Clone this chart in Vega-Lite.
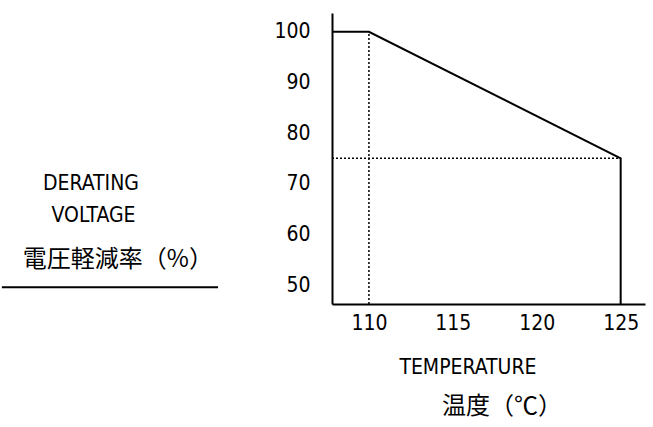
{
  "$schema": "https://vega.github.io/schema/vega-lite/v6.json",
  "autosize": "none",
  "width": 313,
  "height": 291,
  "padding": {"left": 332, "top": 13, "right": 8, "bottom": 123},
  "background": "white",
  "config": {"view": {"stroke": null}},
  "layer": [
    {
      "data": {"values": [
        {"x": 110, "x2": 110, "y": 46.25, "y2": 100},
        {"x": 107.8, "x2": 125, "y": 75, "y2": 75}
      ]},
      "mark": {"type": "rule", "color": "black", "strokeWidth": 1.5, "strokeDash": [2, 2]},
      "encoding": {
        "x": {"field": "x", "type": "quantitative", "scale": {"domain": [107.8, 126.45], "zero": false, "nice": false},
          "axis": {"values": [110, 115, 120, 125], "title": null, "grid": false, "ticks": false, "domainColor": "black", "domainWidth": 2, "labelFont": "DejaVu Sans Condensed, DejaVu Sans", "labelFontSize": 21, "labelColor": "black", "labelPadding": 8}},
        "x2": {"field": "x2"},
        "y": {"field": "y", "type": "quantitative", "scale": {"domain": [46.25, 103.7], "zero": false, "nice": false},
          "axis": {"values": [50, 60, 70, 80, 90, 100], "title": null, "grid": false, "ticks": false, "domainColor": "black", "domainWidth": 2, "labelFont": "DejaVu Sans Condensed, DejaVu Sans", "labelFontSize": 21, "labelColor": "black", "labelPadding": 22}},
        "y2": {"field": "y2"}
      }
    },
    {
      "data": {"values": [
        {"x": 107.8, "y": 100, "o": 1},
        {"x": 110, "y": 100, "o": 2},
        {"x": 125, "y": 75, "o": 3},
        {"x": 125, "y": 46.25, "o": 4}
      ]},
      "mark": {"type": "line", "color": "black", "strokeWidth": 2},
      "encoding": {
        "x": {"field": "x", "type": "quantitative"},
        "y": {"field": "y", "type": "quantitative"},
        "order": {"field": "o", "type": "quantitative"}
      }
    },
    {
      "data": {"values": [
        {"x": 88.13, "x2": 101.01, "y": 49.58}
      ]},
      "mark": {"type": "rule", "color": "black", "strokeWidth": 2, "clip": false},
      "encoding": {
        "x": {"field": "x", "type": "quantitative"},
        "x2": {"field": "x2"},
        "y": {"field": "y", "type": "quantitative"}
      }
    },
    {
      "data": {"values": [
        {"label": "DERATING", "x": 93.44, "y": 69.92},
        {"label": "VOLTAGE", "x": 93.59, "y": 63.61},
        {"label": "TEMPERATURE", "x": 115.9, "y": 33.59}
      ]},
      "mark": {"type": "text", "font": "DejaVu Sans Condensed, DejaVu Sans", "fontSize": 21, "color": "black", "align": "center", "baseline": "middle", "clip": false},
      "encoding": {
        "x": {"field": "x", "type": "quantitative"},
        "y": {"field": "y", "type": "quantitative"},
        "text": {"field": "label"}
      }
    },
    {
      "data": {"values": [
        {"label": "電圧軽減率（%）", "x": 95.04, "y": 54.92},
        {"label": "温度（℃）", "x": 117.93, "y": 25.89}
      ]},
      "mark": {"type": "text", "font": "Noto Sans CJK JP", "fontSize": 24, "color": "black", "align": "center", "baseline": "middle", "clip": false},
      "encoding": {
        "x": {"field": "x", "type": "quantitative"},
        "y": {"field": "y", "type": "quantitative"},
        "text": {"field": "label"}
      }
    }
  ]
}
